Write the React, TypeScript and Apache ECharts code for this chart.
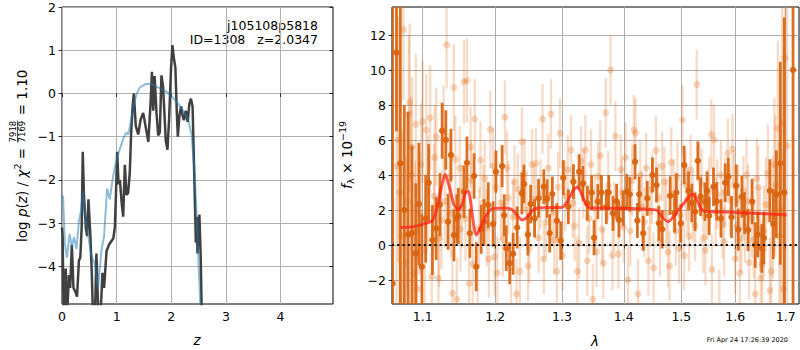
import React, { useEffect, useRef } from "react";
import * as echarts from "echarts";

// ---------- left panel: log p(z) ----------
const zTicks = [0, 1, 2, 3, 4];
const logpTicks = [-4, -3, -2, -1, 0, 1, 2];

const zBlack = [0.0, 0.012, 0.03, 0.068, 0.09, 0.125, 0.15, 0.18, 0.21, 0.25, 0.275, 0.31, 0.335, 0.36, 0.38, 0.4, 0.435, 0.46, 0.484, 0.52, 0.545, 0.57, 0.6, 0.63, 0.67, 0.7, 0.74, 0.77, 0.815, 0.86, 0.94, 0.967, 0.985, 1.01, 1.035, 1.06, 1.09, 1.12, 1.15, 1.18, 1.21, 1.24, 1.266, 1.29, 1.315, 1.35, 1.395, 1.44, 1.486, 1.535, 1.58, 1.62, 1.646, 1.67, 1.695, 1.73, 1.76, 1.79, 1.82, 1.85, 1.9, 1.93, 1.96, 1.995, 2.02, 2.05, 2.075, 2.1, 2.12, 2.15, 2.18, 2.205, 2.23, 2.265, 2.3, 2.33, 2.36, 2.39, 2.42, 2.45, 2.465, 2.48, 2.515, 2.54, 2.56];
const logpBlack = [-3.1, -3.3, -5.3, -4.05, -5.3, -4.2, -4.5, -3.5, -4.5, -4.6, -4.7, -3.86, -3.8, -3.1, -1.35, -2.3, -3.1, -3.3, -2.45, -3.3, -4.15, -5.3, -5.3, -3.7, -5.3, -5.3, -4.15, -4.5, -3.65, -3.5, -3.35, -3.1, -2.45, -1.35, -2.1, -2.0, -2.5, -2.85, -1.65, -2.35, -2.3, -1.85, -0.9, -0.35, 0.0, -0.75, -0.95, -0.6, -0.45, -0.8, -1.12, -0.25, 0.5, -0.4, 0.4, -0.45, -0.97, -0.9, 0.42, 0.15, -1.1, -1.3, -0.6, 0.55, 1.12, 0.8, 0.6, -0.4, -1.0, -0.5, -0.3, -0.5, -0.62, -0.4, -0.66, -0.25, -0.12, -0.3, -1.85, -3.45, -2.85, -3.7, -2.8, -3.85, -5.3];

const zBlue = [0.0, 0.02, 0.05, 0.09, 0.14, 0.18, 0.22, 0.264, 0.31, 0.35, 0.385, 0.43, 0.48, 0.54, 0.6, 0.66, 0.72, 0.77, 0.826, 0.875, 0.925, 0.967, 1.03, 1.12, 1.18, 1.21, 1.255, 1.315, 1.37, 1.426, 1.535, 1.64, 1.79, 1.915, 2.07, 2.19, 2.31, 2.37, 2.42, 2.465, 2.51, 2.545];
const logpBlue = [-2.35, -2.4, -3.45, -3.8, -3.25, -3.55, -3.32, -3.6, -2.95, -2.7, -2.25, -2.9, -3.3, -3.75, -3.95, -4.5, -3.65, -3.3, -2.2, -2.45, -2.0, -1.7, -1.4, -1.05, -0.9, -0.95, -0.7, -0.25, 0.0, 0.14, 0.22, 0.22, 0.12, 0.04, -0.15, -0.35, -0.6, -0.95, -1.7, -2.85, -4.25, -5.3];

// ---------- right panel: spectrum ----------
const lamTicks = [1.1, 1.2, 1.3, 1.4, 1.5, 1.6, 1.7];
const fluxTicks = [-2, 0, 2, 4, 6, 8, 10, 12];

const lamModel = [1.071, 1.088, 1.105, 1.113, 1.119, 1.125, 1.13, 1.136, 1.142, 1.148, 1.153, 1.158, 1.162, 1.166, 1.17, 1.173, 1.178, 1.186, 1.194, 1.205, 1.215, 1.225, 1.232, 1.239, 1.246, 1.254, 1.262, 1.28, 1.3, 1.31, 1.318, 1.324, 1.33, 1.337, 1.344, 1.38, 1.413, 1.44, 1.456, 1.466, 1.477, 1.49, 1.505, 1.515, 1.521, 1.528, 1.535, 1.541, 1.56, 1.593, 1.65, 1.702];
const fluxModel = [1.0, 1.05, 1.25, 1.4, 2.1, 3.3, 4.05, 3.3, 2.3, 2.0, 2.3, 3.0, 3.1, 2.2, 1.0, 0.57, 0.9, 1.6, 2.05, 2.1, 2.12, 2.0, 1.7, 1.43, 1.55, 1.95, 2.12, 2.15, 2.15, 2.6, 3.15, 3.33, 3.0, 2.4, 2.12, 2.1, 2.08, 2.05, 2.0, 1.6, 1.33, 1.8, 2.4, 2.8, 2.9, 2.6, 2.1, 1.95, 1.9, 1.87, 1.8, 1.72];

const lamDark = [1.061, 1.066, 1.071, 1.076, 1.081, 1.086, 1.091, 1.095, 1.099, 1.104, 1.108, 1.113, 1.118, 1.123, 1.126, 1.131, 1.134, 1.138, 1.142, 1.146, 1.148, 1.156, 1.16, 1.164, 1.17, 1.173, 1.18, 1.184, 1.19, 1.197, 1.201, 1.21, 1.213, 1.216, 1.221, 1.226, 1.232, 1.239, 1.242, 1.248, 1.252, 1.258, 1.264, 1.272, 1.277, 1.281, 1.285, 1.292, 1.298, 1.302, 1.31, 1.318, 1.327, 1.333, 1.34, 1.347, 1.351, 1.357, 1.363, 1.371, 1.375, 1.382, 1.388, 1.392, 1.399, 1.405, 1.41, 1.419, 1.423, 1.426, 1.433, 1.44, 1.449, 1.456, 1.46, 1.466, 1.48, 1.488, 1.491, 1.499, 1.505, 1.513, 1.519, 1.525, 1.53, 1.535, 1.543, 1.547, 1.551, 1.559, 1.565, 1.573, 1.581, 1.587, 1.593, 1.602, 1.606, 1.613, 1.618, 1.625, 1.633, 1.639, 1.644, 1.652, 1.656, 1.668, 1.675, 1.681, 1.689, 1.697, 1.715];
const fluxDark = [-2.2, 11.0, 4.67, 2.0, 0.6, 0.68, -0.47, 2.34, -1.24, 1.5, 3.56, 0.29, 0.95, 2.3, 6.53, 6.0, 1.33, 5.14, 0.57, 1.5, 1.65, 3.05, 4.7, 0.67, 3.94, -1.24, 0.9, 1.33, 2.29, 1.2, 4.19, 4.51, 1.7, -0.19, -1.04, -0.5, 1.0, 2.95, 3.49, 0.6, 2.34, 1.52, 2.67, 3.33, 2.65, 0.67, 2.91, 1.39, 0.25, 3.85, 2.19, 3.62, 4.19, 3.52, 2.38, 3.0, 0.42, 2.48, 3.0, 2.19, 3.0, 1.81, 2.5, 1.43, 2.1, 3.05, 2.9, 4.76, 1.4, 2.9, 0.67, 2.67, 4.0, 3.43, 1.24, 0.9, 2.82, 1.81, 3.0, 1.24, 4.57, 3.1, 2.4, 1.9, 4.82, 2.76, 2.48, 3.1, 1.67, 3.33, 2.5, 1.52, 3.56, 3.9, 1.6, 3.39, 0.88, 2.76, 1.81, 0.86, 2.48, 0.0, 0.6, -0.19, 0.4, 3.1, 1.2, 2.9, 4.67, 3.0, 10.0];
const errDark = [20, 4.5, 9, 6, 7, 5, 4, 3.5, 3.0, 2.5, 2.2, 2.0, 1.8, 1.8, 1.6, 1.7, 1.6, 1.5, 1.5, 1.4, 1.6, 1.5, 1.5, 1.4, 1.3, 1.4, 1.4, 1.3, 1.3, 1.3, 1.2, 1.2, 1.2, 1.3, 1.2, 1.2, 1.2, 1.2, 1.1, 1.2, 1.1, 1.1, 1.1, 1.0, 1.1, 1.1, 1.0, 1.0, 1.1, 1.0, 1.0, 1.0, 1.0, 1.0, 1.0, 1.0, 1.0, 1.0, 1.0, 1.0, 1.0, 1.0, 1.0, 1.0, 1.0, 1.0, 1.0, 1.0, 1.0, 1.0, 1.0, 1.0, 1.0, 1.0, 1.0, 1.1, 1.1, 1.1, 1.1, 1.1, 1.1, 1.1, 1.1, 1.1, 1.1, 1.1, 1.1, 1.1, 1.1, 1.1, 1.1, 1.1, 1.1, 1.1, 1.2, 1.2, 1.2, 1.2, 1.2, 1.2, 1.3, 1.3, 1.3, 1.4, 1.5, 1.8, 2.0, 2.5, 5.8, 10, 20];

const lamLight = [1.066, 1.07, 1.075, 1.078, 1.082, 1.083, 1.086, 1.088, 1.091, 1.093, 1.096, 1.1, 1.103, 1.105, 1.11, 1.112, 1.115, 1.118, 1.121, 1.125, 1.128, 1.132, 1.136, 1.14, 1.142, 1.146, 1.15, 1.153, 1.156, 1.16, 1.163, 1.166, 1.168, 1.171, 1.175, 1.179, 1.183, 1.188, 1.193, 1.197, 1.199, 1.203, 1.208, 1.214, 1.219, 1.223, 1.228, 1.231, 1.236, 1.239, 1.246, 1.25, 1.254, 1.26, 1.264, 1.27, 1.275, 1.283, 1.288, 1.292, 1.297, 1.305, 1.314, 1.32, 1.324, 1.33, 1.337, 1.343, 1.349, 1.355, 1.361, 1.366, 1.37, 1.378, 1.381, 1.386, 1.395, 1.4, 1.407, 1.417, 1.42, 1.424, 1.428, 1.435, 1.442, 1.448, 1.455, 1.462, 1.47, 1.476, 1.482, 1.49, 1.496, 1.502, 1.508, 1.514, 1.521, 1.528, 1.533, 1.54, 1.548, 1.555, 1.556, 1.56, 1.566, 1.57, 1.576, 1.581, 1.586, 1.595, 1.6, 1.606, 1.612, 1.622, 1.627, 1.632, 1.639, 1.645, 1.65, 1.656, 1.664, 1.668, 1.674, 1.679, 1.684, 1.69, 1.695, 1.699, 1.703,
  1.068, 1.073, 1.08, 1.085, 1.09, 1.098, 1.107, 1.116, 1.122, 1.13, 1.138, 1.144, 1.151, 1.158, 1.165, 1.177, 1.185, 1.191, 1.201, 1.211, 1.217, 1.226, 1.233, 1.243, 1.248, 1.257, 1.267, 1.272, 1.279, 1.285, 1.294, 1.301, 1.309, 1.317, 1.327, 1.334, 1.34, 1.346, 1.352, 1.358, 1.364, 1.374, 1.384, 1.391, 1.397, 1.403, 1.411, 1.414, 1.431, 1.438, 1.445, 1.451, 1.459, 1.466, 1.473, 1.479, 1.486, 1.493, 1.499, 1.505, 1.511, 1.517, 1.525, 1.537, 1.544, 1.551, 1.563, 1.573, 1.579, 1.59, 1.598, 1.603, 1.609, 1.616, 1.619, 1.625, 1.636, 1.642, 1.648, 1.653, 1.66, 1.671, 1.677, 1.687, 1.693];
const fluxLight = [4.5, 3.0, 12.3, -1.0, 7.5, 8.15, 5.6, -1.62, 6.9, -2.5, 1.8, 7.05, -0.3, 6.57, 7.27, -1.8, 2.8, 6.19, -1.9, 1.43, 6.5, 11.43, 3.9, -2.76, 9.0, -3.1, 4.4, 2.2, 9.33, 9.4, -2.2, 3.7, -1.1, 7.2, -3.4, 4.86, 2.4, 1.0, 6.6, 4.5, -0.67, -1.6, 2.4, 7.3, 2.7, -3.4, 3.6, -2.8, -1.5, 5.9, 2.0, -0.19, 4.6, 4.67, 0.4, 7.2, 1.3, 7.49, 0.3, -1.5, 6.38, 2.8, 5.43, 1.1, -1.5, 4.8, 5.43, 1.5, -3.1, -0.4, 5.1, -1.05, 7.56, 10.0, -0.6, 6.23, 4.32, 1.0, -2.0, 6.57, 6.4, -2.8, 4.0, 1.3, -0.9, 3.2, 5.4, 0.2, 3.6, -0.4, 4.72, 0.8, -0.2, 7.14, 3.4, 0.5, 2.2, 9.18, 3.8, 0.4, 2.3, 6.32, -1.4, 6.0, 2.9, -3.4, 1.2, 3.0, 5.24, 5.5, -0.8, 2.6, 0.4, 4.0, -1.0, 1.5, -2.8, 3.3, -1.9, 0.8, 4.1, -2.6, 1.6, 3.4, 6.67, 2.0, -2.5, 10.67, 5.67,
  6.0, 0.5, 2.5, 4.0, 0.8, 4.6, 3.1, 5.0, 0.4, 2.5, 1.8, 4.9, 0.9, 1.5, 5.6, 1.0, 3.8, -0.8, 3.3, 0.3, 4.4, 1.6, 3.2, 4.1, -1.2, 2.6, 2.9, -0.8, 4.4, 1.9, 3.3, -0.6, 4.3, 2.4, 0.1, 3.5, -0.9, 4.6, 2.1, 3.9, 0.9, 3.4, 1.6, -0.5, 3.0, 5.0, 0.8, 3.7, 2.2, 4.4, 1.9, -1.3, 2.7, 4.5, 1.8, -1.2, 2.9, 3.9, 1.7, -0.6, 2.6, 4.3, 1.1, 3.5, -0.3, 3.0, 1.9, 4.0, 0.2, 2.6, 3.4, 1.1, -1.6, 3.1, 1.0, 2.5, 0.3, 3.8, 0.9, -1.1, 2.3, -1.5, 4.6, 0.5, 7.0];
const errLight = [9, 8, 4, 6, 4.5, 4.5, 4, 4, 4, 3.5, 3.5, 3.5, 3.2, 3.2, 3.0, 3.0, 3.0, 2.8, 2.8, 2.8, 2.6, 2.5, 2.5, 2.5, 2.5, 2.4, 2.4, 2.4, 2.4, 2.4, 2.3, 2.3, 2.3, 2.3, 2.3, 2.2, 2.2, 2.2, 2.2, 2.2, 2.2, 2.1, 2.1, 2.1, 2.1, 2.1, 2.1, 2.0, 2.0, 2.0, 2.0, 2.0, 2.0, 2.0, 2.0, 2.0, 2.0, 2.0, 2.0, 2.0, 2.0, 2.0, 2.0, 2.0, 2.0, 2.0, 2.0, 2.0, 2.0, 2.0, 2.0, 2.0, 2.0, 2.0, 2.0, 2.0, 2.0, 2.0, 2.0, 2.0, 2.0, 2.0, 2.0, 2.0, 2.0, 2.0, 2.0, 2.0, 2.0, 2.0, 2.0, 2.0, 2.0, 2.0, 2.0, 2.0, 2.0, 2.0, 2.0, 2.0, 2.0, 2.0, 2.0, 2.0, 2.0, 2.0, 2.0, 2.0, 2.0, 2.0, 2.0, 2.0, 2.0, 2.1, 2.1, 2.2, 2.3, 2.4, 2.5, 2.6, 2.8, 3.0, 3.5, 4.0, 5.0, 6.0, 8.0, 8.0, 9.0,
  7, 6, 5, 4.5, 4, 3.5, 3.2, 3.0, 2.8, 2.6, 2.5, 2.5, 2.4, 2.4, 2.3, 2.3, 2.2, 2.2, 2.1, 2.1, 2.1, 2.1, 2.0, 2.0, 2.0, 2.0, 2.0, 2.0, 2.0, 2.0, 2.0, 2.0, 2.0, 2.0, 2.0, 2.0, 2.0, 2.0, 2.0, 2.0, 2.0, 2.0, 2.0, 2.0, 2.0, 2.0, 2.0, 2.0, 2.0, 2.0, 2.0, 2.0, 2.0, 2.0, 2.0, 2.0, 2.0, 2.0, 2.0, 2.0, 2.0, 2.0, 2.0, 2.0, 2.0, 2.0, 2.0, 2.0, 2.0, 2.0, 2.0, 2.0, 2.0, 2.0, 2.0, 2.1, 2.2, 2.3, 2.4, 2.5, 2.7, 3.2, 3.8, 5.5, 7];

const FONT = "DejaVu Sans";
const minus = (v: number | string) => String(v).replace("-", "\u2212");

function errRender(barColor: string, dotColor: string, barW: number, r: number) {
  return (params: any, api: any) => {
    const x = api.value(0);
    const y = api.value(1);
    const e = api.value(2);
    const c = api.coord([x, y]);
    const t = api.coord([x, y + e]);
    const b = api.coord([x, y - e]);
    const cs = params.coordSys;
    const top = Math.max(t[1], cs.y);
    const bot = Math.min(b[1], cs.y + cs.height);
    const children: any[] = [];
    if (bot > top) {
      children.push({
        type: "line",
        shape: { x1: c[0], y1: top, x2: c[0], y2: bot },
        style: { stroke: barColor, lineWidth: barW },
      });
    }
    if (c[1] >= cs.y && c[1] <= cs.y + cs.height) {
      children.push({ type: "circle", shape: { cx: c[0], cy: c[1], r }, style: { fill: dotColor } });
    }
    return { type: "group", children };
  };
}

const txt = (extra: any) => ({ fontFamily: FONT, fill: "#000", ...extra });

export default function App() {
  const ref = useRef<HTMLDivElement>(null);
  useEffect(() => {
    if (!ref.current) return;
    const chart = echarts.init(ref.current, undefined, { renderer: "svg" });
    const axisLabelBase = { color: "#000", fontFamily: FONT, fontSize: 12.5 };
    const splitLine = { show: true, lineStyle: { color: "#b0b0b0", width: 1 } };
    const tickBase = { show: true, length: 3.5, lineStyle: { color: "#000", width: 0.8 } };
    const lnTicks = lamTicks.map((v) => Math.log(v));

    const option: any = {
      animation: false,
      grid: [
        { left: 62, top: 7, width: 271, height: 297, show: true, borderColor: "#000", borderWidth: 1, backgroundColor: "transparent" },
        { left: 392, top: 7, width: 407, height: 297, show: true, borderColor: "#000", borderWidth: 1, backgroundColor: "transparent" },
      ],
      xAxis: [
        {
          gridIndex: 0, type: "value", min: 0, max: 4.96,
          axisLine: { show: false },
          axisTick: { ...tickBase, customValues: zTicks },
          axisLabel: { ...axisLabelBase, customValues: zTicks, margin: 6 },
          splitLine,
        },
        {
          gridIndex: 1, type: "value", min: Math.log(1.0603), max: Math.log(1.7273),
          axisLine: { show: false },
          axisTick: { ...tickBase, customValues: lnTicks },
          axisLabel: { ...axisLabelBase, customValues: lnTicks, margin: 6, formatter: (v: number) => Math.exp(v).toFixed(1) },
          splitLine,
        },
      ],
      yAxis: [
        {
          gridIndex: 0, type: "value", min: -4.87, max: 2,
          axisLine: { show: false },
          axisTick: { ...tickBase, customValues: logpTicks },
          axisLabel: { ...axisLabelBase, customValues: logpTicks, margin: 6, formatter: (v: number) => minus(v) },
          splitLine,
        },
        {
          gridIndex: 1, type: "value", min: -3.37, max: 13.6,
          axisLine: { show: false },
          axisTick: { ...tickBase, customValues: fluxTicks },
          axisLabel: { ...axisLabelBase, customValues: fluxTicks, margin: 6, formatter: (v: number) => minus(v) },
          splitLine,
        },
        {
          gridIndex: 0, type: "value", min: -4.87, max: 2, position: "right",
          axisLine: { show: false },
          axisTick: { ...tickBase, inside: true, customValues: logpTicks },
          axisLabel: { show: false },
          splitLine: { show: false },
        },
      ],
      series: [
        {
          type: "line", xAxisIndex: 0, yAxisIndex: 0, showSymbol: false, clip: true,
          data: zBlack.map((z, i) => [z, logpBlack[i]]),
          lineStyle: { color: "#404040", width: 2.5 },
        },
        {
          type: "line", xAxisIndex: 0, yAxisIndex: 0, showSymbol: false, clip: true,
          data: zBlue.map((z, i) => [z, logpBlue[i]]),
          lineStyle: { color: "rgba(31,119,180,0.5)", width: 2 },
        },
        {
          type: "custom", xAxisIndex: 1, yAxisIndex: 1, clip: true,
          encode: { x: 0, y: 1 },
          data: lamLight.map((l, i) => [Math.log(l), fluxLight[i], errLight[i]]),
          renderItem: errRender("rgba(224,112,26,0.25)", "rgba(224,112,26,0.28)", 2.3, 3.5),
        },
        {
          type: "custom", xAxisIndex: 1, yAxisIndex: 1, clip: true,
          encode: { x: 0, y: 1 },
          data: lamDark.map((l, i) => [Math.log(l), fluxDark[i], errDark[i]]),
          renderItem: errRender("rgba(217,100,15,0.92)", "rgba(217,100,15,0.95)", 2.8, 3.2),
        },
        {
          type: "line", xAxisIndex: 1, yAxisIndex: 1, showSymbol: false, clip: true, smooth: 0.2,
          data: lamModel.map((l, i) => [Math.log(l), fluxModel[i]]),
          lineStyle: { color: "rgba(255,35,20,0.75)", width: 3 },
          markLine: {
            silent: true, symbol: ["none", "none"], label: { show: false },
            lineStyle: { color: "#000", width: 2, type: [2, 3.3] },
            data: [{ yAxis: 0 }],
          },
        },
      ],
      graphic: [
        { type: "text", x: 318, y: 25.5, style: txt({ text: "j105108p5818", fontSize: 12.5, align: "right", verticalAlign: "middle" }) },
        { type: "text", x: 318, y: 39.5, style: txt({ text: "ID=1308   z=2.0347", fontSize: 12.5, align: "right", verticalAlign: "middle" }) },
        { type: "text", x: 197, y: 340, style: txt({ text: "z", fontSize: 13.5, fontStyle: "italic", align: "center", verticalAlign: "middle" }) },
        { type: "text", x: 595, y: 341, style: txt({ text: "\u03bb", fontSize: 13.5, fontStyle: "italic", align: "center", verticalAlign: "middle" }) },
        { type: "text", x: 788, y: 340, style: txt({ text: "Fri Apr 24 17:26:39 2020", fontSize: 6.5, align: "right", verticalAlign: "middle" }) },
        {
          type: "group", x: 22, y: 242, rotation: Math.PI / 2,
          children: [
            { type: "text", x: 0, y: 0, style: txt({ text: "log", fontSize: 13.5, verticalAlign: "middle" }) },
            { type: "text", x: 24.9, y: 0, style: txt({ text: "p", fontSize: 13.5, fontStyle: "italic", verticalAlign: "middle" }) },
            { type: "text", x: 33.5, y: 0, style: txt({ text: "(", fontSize: 13.5, verticalAlign: "middle" }) },
            { type: "text", x: 38.8, y: 0, style: txt({ text: "z", fontSize: 13.5, fontStyle: "italic", verticalAlign: "middle" }) },
            { type: "text", x: 45.9, y: 0, style: txt({ text: ")", fontSize: 13.5, verticalAlign: "middle" }) },
            { type: "text", x: 55.4, y: 0, style: txt({ text: "/", fontSize: 13.5, verticalAlign: "middle" }) },
            { type: "text", x: 64.3, y: 0, style: txt({ text: "\u03c7", fontSize: 13.5, fontStyle: "italic", verticalAlign: "middle" }) },
            { type: "text", x: 72.6, y: -5, style: txt({ text: "2", fontSize: 9.5, verticalAlign: "middle" }) },
            { type: "text", x: 82.8, y: 0, style: txt({ text: "=", fontSize: 13.5, verticalAlign: "middle" }) },
            { type: "text", x: 110.4, y: -8.6, style: txt({ text: "7918", fontSize: 8.5, align: "center", verticalAlign: "middle" }) },
            { type: "line", shape: { x1: 99.5, y1: -4.5, x2: 121.5, y2: -4.5 }, style: { stroke: "#000", lineWidth: 0.7 } },
            { type: "text", x: 110.4, y: -0.2, style: txt({ text: "7169", fontSize: 8.5, align: "center", verticalAlign: "middle" }) },
            { type: "text", x: 126.7, y: 0, style: txt({ text: "= 1.10", fontSize: 13.5, verticalAlign: "middle" }) },
          ],
        },
        {
          type: "group", x: 347, y: 189, rotation: Math.PI / 2,
          children: [
            { type: "text", x: 0, y: 0, style: txt({ text: "f", fontSize: 13.5, fontStyle: "italic", verticalAlign: "middle" }) },
            { type: "text", x: 5, y: 3.5, style: txt({ text: "\u03bb", fontSize: 9.5, verticalAlign: "middle" }) },
            { type: "text", x: 11, y: 0, style: txt({ text: " \u00d7 10", fontSize: 13.5, verticalAlign: "middle" }) },
            { type: "text", x: 48, y: -5, style: txt({ text: "\u221219", fontSize: 9.5, verticalAlign: "middle" }) },
          ],
        },
      ],
    };
    chart.setOption(option);
    return () => chart.dispose();
  }, []);
  return <div ref={ref} style={{ position: "absolute", left: 0, top: 0, width: 800, height: 350 }} />;
}
